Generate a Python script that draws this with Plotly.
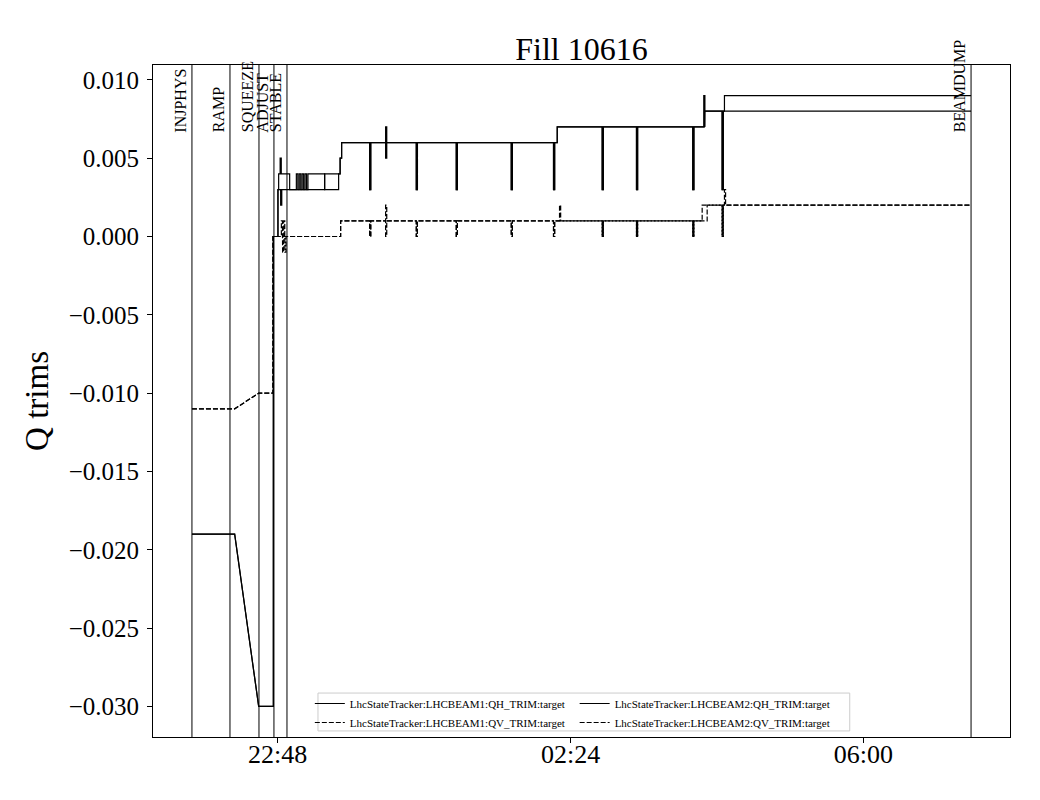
import plotly.graph_objects as go
from datetime import datetime, timedelta

# ---------------- data ----------------
title_text = "Fill 10616"
y_label = "Q trims"

phase_names = ["INJPHYS", "RAMP", "SQUEEZE", "ADJUST", "STABLE", "BEAMDUMP"]
phase_times = ["21:44:48", "22:12:50", "22:34:13", "22:45:16", "22:54:52", "07:19:20"]

x_tick_times = ["22:48:00", "02:24:00", "06:00:00"]
x_tick_labels = ["22:48", "02:24", "06:00"]
y_tick_values = [-0.030, -0.025, -0.020, -0.015, -0.010, -0.005, 0.000, 0.005, 0.010]

series_names = [
    "LhcStateTracker:LHCBEAM1:QH_TRIM:target",
    "LhcStateTracker:LHCBEAM1:QV_TRIM:target",
    "LhcStateTracker:LHCBEAM2:QH_TRIM:target",
    "LhcStateTracker:LHCBEAM2:QV_TRIM:target",
]

# B1 QH knots (two knots at the same time = step)
b1_qh_t = ["21:44:48", "22:16:18", "22:34:00", "22:44:50", "22:44:50", "22:48:13", "22:48:13",
           "22:48:44", "22:48:44", "22:56:51", "22:56:51",
           "23:01:47", "23:01:47", "23:02:53", "23:02:53", "23:03:55", "23:03:55",
           "23:05:02", "23:05:02", "23:06:04", "23:06:04", "23:07:10", "23:07:10",
           "23:08:12", "23:08:12", "23:09:18", "23:09:18", "23:10:20", "23:10:20",
           "23:22:39", "23:22:39", "23:32:58", "23:32:58", "23:34:04", "23:34:04",
           "23:35:10", "23:35:10", "02:14:10", "02:14:10", "04:03:10", "04:03:10",
           "04:17:29", "04:17:29", "07:19:20"]
b1_qh_v = [-0.019, -0.019, -0.030, -0.030, 0.000, 0.000, 0.003,
           0.003, 0.004, 0.004, 0.003,
           0.003, 0.004, 0.004, 0.003, 0.003, 0.004,
           0.004, 0.003, 0.003, 0.004, 0.004, 0.003,
           0.003, 0.004, 0.004, 0.003, 0.003, 0.004,
           0.004, 0.003, 0.003, 0.004, 0.004, 0.005,
           0.005, 0.006, 0.006, 0.007, 0.007, 0.008,
           0.008, 0.009, 0.009]
b1_qh_spike_t = ["22:49:50", "23:55:49", "00:07:37", "00:30:14", "00:59:43", "01:40:16",
                 "02:11:26", "02:47:20", "03:12:37", "03:54:07", "04:02:14", "04:15:47"]
b1_qh_spike_v = [0.005, 0.003, 0.007, 0.003, 0.003, 0.003,
                 0.003, 0.003, 0.003, 0.003, 0.009, 0.003]

# B2 QH
b2_qh_t = ["21:44:48", "22:16:18", "22:34:00", "22:44:50", "22:44:50", "22:48:13", "22:48:13",
           "23:22:39", "23:22:39", "23:34:04", "23:34:04", "23:35:10", "23:35:10",
           "02:14:10", "02:14:10", "04:02:44", "04:02:44", "07:19:20"]
b2_qh_v = [-0.019, -0.019, -0.030, -0.030, 0.000, 0.000, 0.003,
           0.003, 0.004, 0.004, 0.005, 0.005, 0.006,
           0.006, 0.007, 0.007, 0.008, 0.008]
b2_qh_spike_t = ["22:50:12", "23:55:49", "00:07:37", "00:30:14", "00:59:43", "01:40:16",
                 "02:11:26", "02:47:20", "03:12:37", "03:54:07", "04:15:47"]
b2_qh_spike_v = [0.002, 0.003, 0.005, 0.003, 0.003, 0.003,
                 0.003, 0.003, 0.003, 0.003, 0.003]

# B1 QV
b1_qv_t = ["21:44:48", "22:16:18", "22:34:00", "22:44:32", "22:44:32",
           "23:34:26", "23:34:26", "04:01:03", "04:01:03", "07:19:20"]
b1_qv_v = [-0.011, -0.011, -0.010, -0.010, 0.000,
           0.000, 0.001, 0.001, 0.002, 0.002]
b1_qv_spike_t = ["22:50:44", "22:51:40", "23:55:49", "00:07:37", "00:30:14", "00:59:43",
                 "01:40:16", "02:11:26", "02:15:52", "02:47:20", "03:12:37", "03:54:07",
                 "04:15:47", "04:17:29"]
b1_qv_spike_v = [0.001, -0.001, 0.000, 0.002, 0.000, 0.000,
                 0.000, 0.000, 0.002, 0.000, 0.000, 0.000,
                 0.000, 0.003]

# B2 QV
b2_qv_t = ["21:44:48", "22:16:18", "22:34:00", "22:44:32", "22:44:32",
           "23:34:26", "23:34:26", "04:04:44", "04:04:44", "07:19:20"]
b2_qv_v = [-0.011, -0.011, -0.010, -0.010, 0.000,
           0.000, 0.001, 0.001, 0.002, 0.002]
b2_qv_spike_t = ["22:52:25", "22:53:20", "23:55:49", "00:07:37", "00:30:14", "00:59:43",
                 "01:40:16", "02:11:26", "02:47:20", "03:12:37", "03:54:07", "04:15:47"]
b2_qv_spike_v = [0.001, -0.001, 0.000, 0.000, 0.000, 0.000,
                 0.000, 0.000, 0.000, 0.000, 0.000, 0.000]


# ---------------- helpers ----------------
def ts(s):
    h, m, sec = map(int, s.split(":"))
    day = datetime(2025, 5, 15) if h >= 12 else datetime(2025, 5, 16)
    return day.replace(hour=h, minute=m, second=sec)


SPIKE_DUR = timedelta(seconds=50)


def build(kt, kv, st, sv):
    knots = [(ts(t), v) for t, v in zip(kt, kv)]

    def level(t):
        lv = knots[0][1]
        for kt_, kv_ in knots:
            if kt_ <= t:
                lv = kv_
        return lv

    items = [(t, i, [(t, v)]) for i, (t, v) in enumerate(knots)]
    for j, (t, p) in enumerate(zip(st, sv)):
        t0 = ts(t)
        t1 = t0 + SPIKE_DUR
        items.append((t0, len(knots) + j, [(t0, level(t0)), (t0, p), (t1, p), (t1, level(t1))]))
    items.sort(key=lambda it: (it[0], it[1]))
    xs, ys = [], []
    for _, _, pts in items:
        for x, y in pts:
            xs.append(x)
            ys.append(y)
    return xs, ys


FONT = "Liberation Serif, Times New Roman, serif"

fig = go.Figure()

specs = [
    (series_names[0], b1_qh_t, b1_qh_v, b1_qh_spike_t, b1_qh_spike_v, "solid", "legend"),
    (series_names[1], b1_qv_t, b1_qv_v, b1_qv_spike_t, b1_qv_spike_v, "5px,2px", "legend"),
    (series_names[2], b2_qh_t, b2_qh_v, b2_qh_spike_t, b2_qh_spike_v, "solid", "legend2"),
    (series_names[3], b2_qv_t, b2_qv_v, b2_qv_spike_t, b2_qv_spike_v, "5px,2px", "legend2"),
]
for name, kt, kv, st, sv, dash, lg in specs:
    xs, ys = build(kt, kv, st, sv)
    fig.add_trace(go.Scatter(x=xs, y=ys, mode="lines", name=name,
                             line=dict(color="black", width=1.2, dash=dash),
                             legend=lg))

# phase lines + labels
for name, t in zip(phase_names, phase_times):
    fig.add_shape(type="line", xref="x", yref="paper", x0=ts(t), x1=ts(t), y0=0, y1=1,
                  line=dict(color="black", width=1))
    fig.add_annotation(x=ts(t), y=0.897, xref="x", yref="paper", text=name,
                       textangle=-90, showarrow=False, xanchor="right", yanchor="bottom",
                       xshift=-1, font=dict(family=FONT, size=16, color="black"))

t_first = ts(phase_times[0])
t_last = ts(phase_times[-1])
span = t_last - t_first
x_range = [t_first - span * 0.05, t_last + span * 0.05]

ymin, ymax = -0.030, 0.009
ypad = (ymax - ymin) * 0.05

# legend border box
fig.add_shape(type="rect", xref="paper", yref="paper", x0=0.1925, x1=0.813, y0=0.009, y1=0.0654,
              line=dict(color="#cccccc", width=1), fillcolor="rgba(255,255,255,0.8)", layer="below")

fig.update_layout(
    width=1032, height=792,
    margin=dict(l=145, r=30, t=57, b=63),
    paper_bgcolor="white", plot_bgcolor="white",
    font=dict(family=FONT, color="black"),
    title=dict(text=title_text, x=0.5, xref="paper", xanchor="center",
               y=1, yref="paper", yanchor="bottom", pad=dict(b=5),
               font=dict(family=FONT, size=32, color="black")),
    showlegend=True,
    legend=dict(x=0.183, y=0.0, xanchor="left", yanchor="bottom", orientation="v",
                bgcolor="rgba(0,0,0,0)", borderwidth=0,
                font=dict(family=FONT, size=11, color="black"), tracegroupgap=0),
    legend2=dict(x=0.492, y=0.0, xanchor="left", yanchor="bottom", orientation="v",
                 bgcolor="rgba(0,0,0,0)", borderwidth=0,
                 font=dict(family=FONT, size=11, color="black"), tracegroupgap=0),
    xaxis=dict(type="date", range=x_range,
               tickvals=[ts(t) for t in x_tick_times], ticktext=x_tick_labels,
               ticks="outside", ticklen=5, tickcolor="black", ticklabelstandoff=-11,
               showline=True, linecolor="black", linewidth=1, mirror=True,
               showgrid=False, zeroline=False,
               tickfont=dict(family=FONT, size=26, color="black")),
    yaxis=dict(range=[ymin - ypad, ymax + ypad],
               tickvals=y_tick_values, tickformat=".3f",
               ticks="outside", ticklen=5, tickcolor="black", ticklabelstandoff=3,
               showline=True, linecolor="black", linewidth=1, mirror=True,
               showgrid=False, zeroline=False,
               tickfont=dict(family=FONT, size=25, color="black"),
               title=dict(text=y_label, font=dict(family=FONT, size=33, color="black"),
                          standoff=10)),
)

fig.write_html("out.html")
